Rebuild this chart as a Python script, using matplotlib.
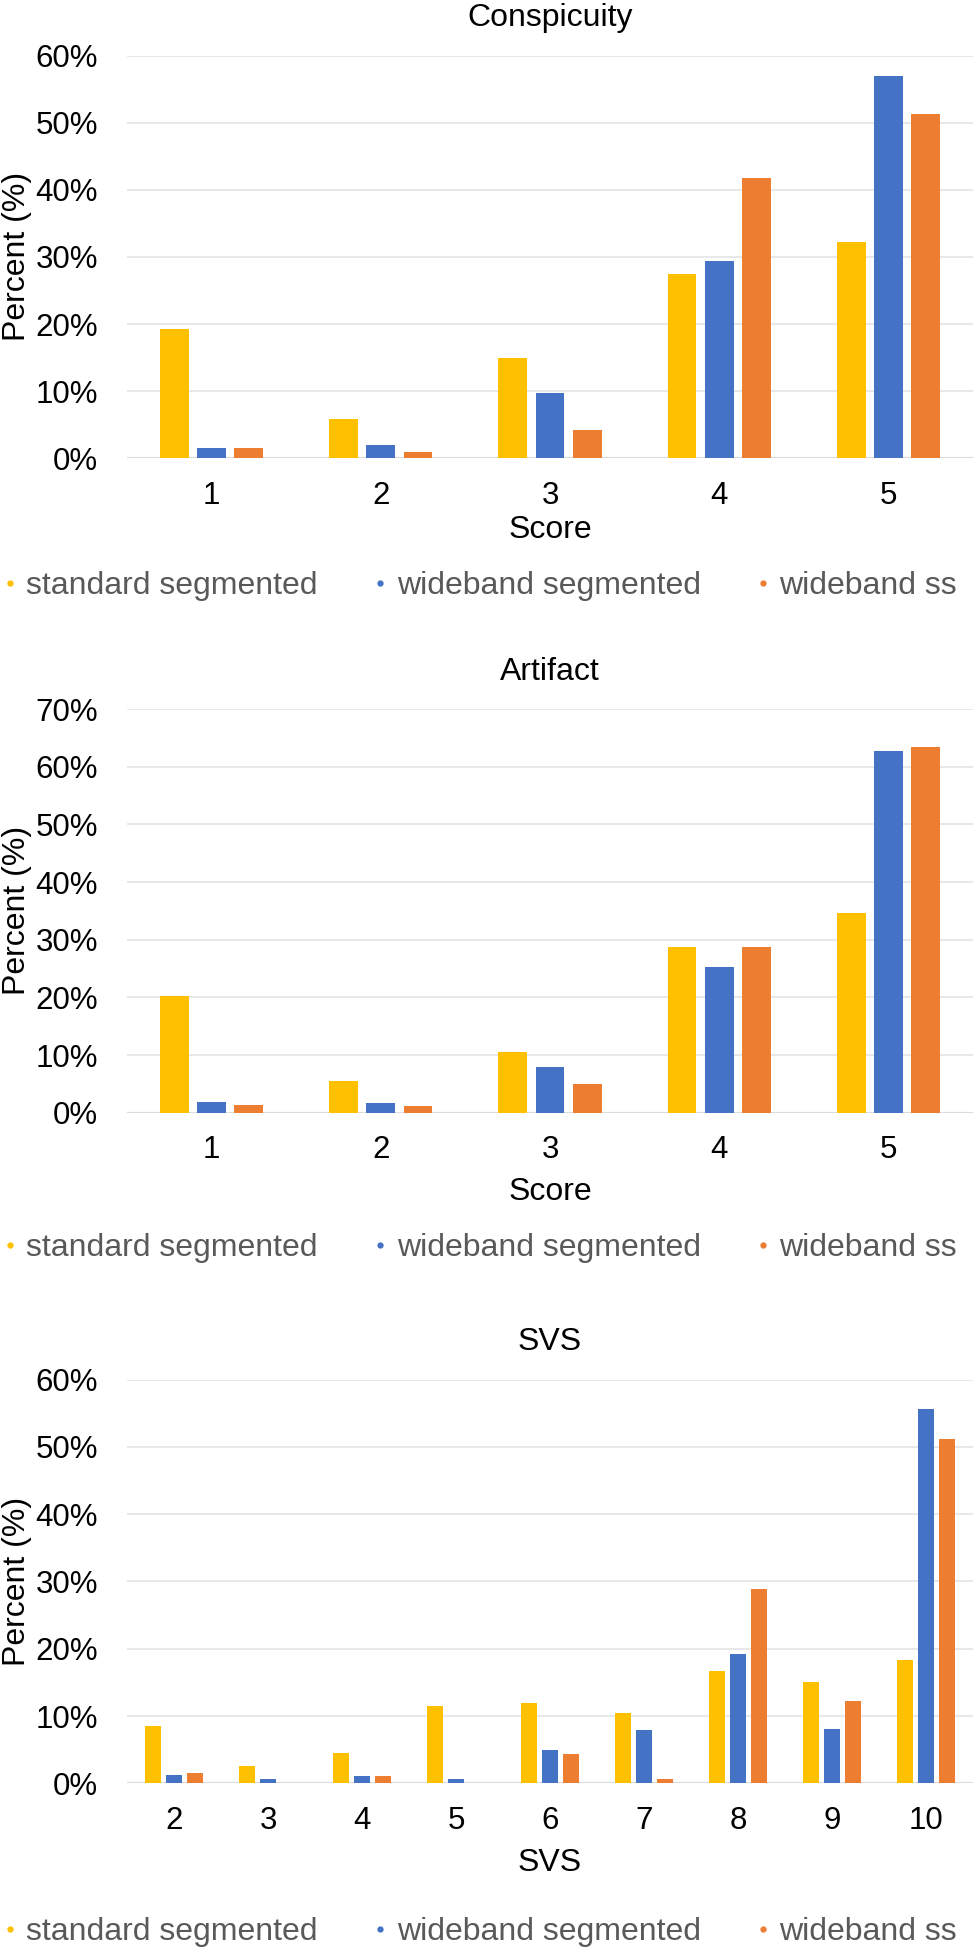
import matplotlib
matplotlib.use("Agg")
import matplotlib.pyplot as plt
from matplotlib.lines import Line2D
import numpy as np

plt.rcParams["font.family"] = ["Liberation Sans", "DejaVu Sans"]

series_names = ["standard segmented", "wideband segmented", "wideband ss"]
colors = ["#FFC000", "#4472C4", "#ED7D31"]

# Conspicuity, score 1-5 (percent)
consp_scores = [1, 2, 3, 4, 5]
consp_std = [19.2, 5.9, 15.0, 27.4, 32.2]
consp_wseg = [1.6, 2.0, 9.8, 29.4, 56.9]
consp_wss = [1.5, 1.0, 4.2, 41.7, 51.3]

# Artifact, score 1-5 (percent)
art_scores = [1, 2, 3, 4, 5]
art_std = [20.2, 5.5, 10.6, 28.8, 34.7]
art_wseg = [1.9, 1.7, 8.0, 25.2, 62.8]
art_wss = [1.4, 1.1, 4.9, 28.8, 63.4]

# SVS, 2-10 (percent)
svs_scores = [2, 3, 4, 5, 6, 7, 8, 9, 10]
svs_std = [8.5, 2.5, 4.5, 11.5, 12.0, 10.5, 16.7, 15.0, 18.3]
svs_wseg = [1.3, 0.6, 1.1, 0.6, 4.9, 7.9, 19.2, 8.1, 55.7]
svs_wss = [1.5, 0.0, 1.1, 0.0, 4.3, 0.7, 28.9, 12.2, 51.2]

panels = [
    ("Conspicuity", "Score", consp_scores, [consp_std, consp_wseg, consp_wss], 60),
    ("Artifact", "Score", art_scores, [art_std, art_wseg, art_wss], 70),
    ("SVS", "SVS", svs_scores, [svs_std, svs_wseg, svs_wss], 60),
]

# axes boxes [left, bottom, width, height] in figure fraction
boxes = [
    [0.1301, 0.76497, 0.8668, 0.20656],
    [0.1301, 0.42938, 0.8668, 0.20703],
    [0.1301, 0.08549, 0.8668, 0.20703],
]
xlabel_pads = [3, 9, 9]
legend_y = [-0.3165, -0.3356, -0.368]

FS = 23
fig = plt.figure(figsize=(9.76, 19.5), dpi=100)

for (title, xlab, cats, values, ymax), box, lpad, ly in zip(
        panels, boxes, xlabel_pads, legend_y):
    ax = fig.add_axes(box)
    x = np.arange(1, len(cats) + 1)
    for i, (vals, c) in enumerate(zip(values, colors)):
        ax.bar(x + (i - 1) * 0.22, vals, width=0.17, color=c, zorder=3)

    ax.set_xlim(0.5, len(cats) + 0.5)
    ax.set_ylim(0, ymax)
    ax.set_xticks(x)
    ax.set_xticklabels([str(c) for c in cats])
    yt = np.arange(0, ymax + 1, 10)
    ax.set_yticks(yt)
    ax.set_yticklabels([f"{v:.0f}%" for v in yt])
    ax.tick_params(axis="both", length=0, labelsize=FS - 0.5, colors="black")
    ax.tick_params(axis="y", pad=21)
    ax.tick_params(axis="x", pad=16)

    for s in ax.spines.values():
        s.set_visible(False)
    ax.grid(axis="y", color="#E4E4E4", linewidth=1.2, zorder=0)
    ax.axhline(0, color="#DCDCDC", linewidth=1.6, zorder=2)

    ax.set_title(title, fontsize=FS, pad=21)
    ax.set_xlabel(xlab, fontsize=FS, labelpad=lpad)
    ax.set_ylabel("Percent (%)", fontsize=FS, labelpad=2)

    handles = [Line2D([], [], marker="o", linestyle="", color=c, markersize=3.5)
               for c in colors]
    ax.legend(handles, series_names, loc="center left",
              bbox_to_anchor=(-0.1501, ly), ncol=3, frameon=False,
              fontsize=FS, labelcolor="#595959", borderaxespad=0,
              borderpad=0, handlelength=0.6, handletextpad=0.22,
              columnspacing=1.65)

fig.savefig("out.png", dpi=100)
